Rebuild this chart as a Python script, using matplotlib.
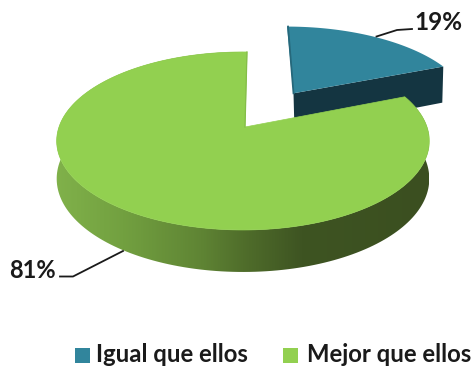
import numpy as np
import matplotlib
matplotlib.use("Agg")
import matplotlib.pyplot as plt
from matplotlib.colors import LinearSegmentedColormap
from matplotlib.patches import Polygon, Rectangle

labels = ["Igual que ellos", "Mejor que ellos"]
values = [19, 81]

plt.rcParams['font.family'] = ['Lato', 'DejaVu Sans']

BLUE = "#31859c"
BLUE_SIDE = "#143541"
GREEN = "#92d050"

# perspective of the disc on the page
CX, CY = 243, 127
RX, RY = 184, 86.8
K = 0.157

def project(u, v):
    w = 1 + K * v
    return CX + RX * u / w, CY - RY * v / w

def depth(v):
    return 37 - 5 * v

def arc(a0, a1, du=0.0, dv=0.0, n=200):
    # angles run clockwise from north, in degrees
    t = np.radians(np.linspace(a0, a1, n))
    return np.sin(t) + du, np.cos(t) + dv

def top_face(a0, a1, du=0.0, dv=0.0):
    u, v = arc(a0, a1, du, dv)
    u = np.r_[du, u]
    v = np.r_[dv, v]
    x, y = project(u, v)
    return np.c_[x, y]

fig = plt.figure(figsize=(4.73, 3.67), dpi=100)
ax = fig.add_axes([0, 0, 1, 1])
ax.set_xlim(0, 473)
ax.set_ylim(367, 0)
ax.axis("off")

split = 360 * values[0] / sum(values)

# blue slice pulled out along its middle
mid = np.radians(split / 2)
du, dv = 0.52 * np.sin(mid), 0.5 * np.cos(mid)

x0, y0 = project(du, dv)
tip_u, tip_v = np.sin(np.radians(split)) + du, np.cos(np.radians(split)) + dv
x1, y1 = project(tip_u, tip_v)
side = [(x0, y0), (x1, y1), (x1 - 1, y1 + depth(tip_v) + 3), (x0 + 1, y0 + depth(dv) + 3)]
ax.add_patch(Polygon(side, closed=True, fc=BLUE_SIDE, ec="none", zorder=2))
ax.add_patch(Polygon(top_face(0, split, du, dv), closed=True, fc=BLUE, ec="none", zorder=3))
xl, yl = project(du, 1 + dv)
ax.plot([xl + 1, x0], [yl, y0], color="#26687b", lw=1.3, zorder=3)

# green slice, wall first with a left to right shade
u, v = arc(split, 360)
xt, yt = project(u, v)
yb = yt + depth(v)
ribbon = np.r_[np.c_[xt, yt], np.c_[xt, yb][::-1]]
wall = Polygon(ribbon, closed=True, fc="none", ec="none", zorder=4)
ax.add_patch(wall)
shade = LinearSegmentedColormap.from_list("wall", [
    (0.0, "#80b14a"), (0.18, "#72a040"), (0.39, "#5f8434"), (0.5, "#506e2b"),
    (0.66, "#3e5422"), (1.0, "#3b4f20")])
im = ax.imshow(np.linspace(0, 1, 372).reshape(1, -1), cmap=shade, aspect="auto",
               extent=(56, 428, 280, 40), zorder=4)
im.set_clip_path(wall)
ax.set_xlim(0, 473)
ax.set_ylim(367, 0)

# top of the green slice, its notch edge sits a little right of the disc centre
face = top_face(split, 360)
face[0] = (CX + 2, CY)
xn, yn = project(0, 1)
face = np.r_[face, [[xn + 4, yn]]]
ax.add_patch(Polygon(face, closed=True, fc=GREEN, ec=GREEN, lw=0.5, zorder=5))
ax.plot([xn + 4, CX + 2], [yn, CY], color="#84bd48", lw=0.9, zorder=5)

# value labels with their leader lines
ax.plot([376.5, 397, 412], [36.5, 30, 29], color="#1a1a1a", lw=1.3, zorder=6)
ax.plot([60, 73, 123], [276.5, 276.5, 251], color="#1a1a1a", lw=1.3, zorder=6)
ax.text(414.5, 30, f"{values[0]}%", fontsize=17.5, fontweight="bold", color="#1a1a1a",
        ha="left", va="baseline")
ax.text(9.5, 278.5, f"{values[1]}%", fontsize=17, fontweight="bold", color="#1a1a1a",
        ha="left", va="baseline")

# legend
for sx, tx, name, col in zip([75, 283], [96, 307], labels, [BLUE, GREEN]):
    ax.add_patch(Rectangle((sx, 348), 15, 15, fc=col, ec="none"))
    ax.text(tx, 362.5, name, fontsize=17.2, fontweight="bold", color="#1a1a1a",
            ha="left", va="baseline")

fig.savefig("out.png", dpi=100)
